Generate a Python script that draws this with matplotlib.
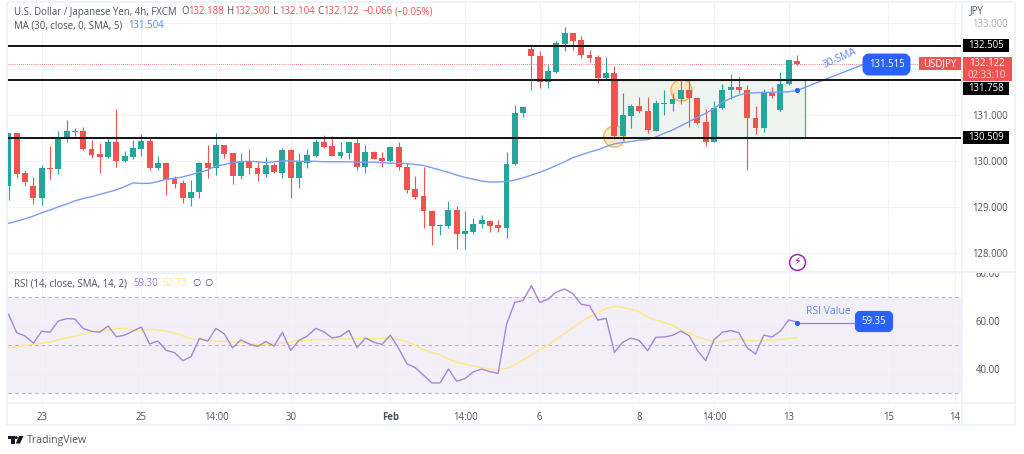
import matplotlib
matplotlib.use("Agg")
import matplotlib.pyplot as plt
from matplotlib.patches import Rectangle, FancyBboxPatch, Polygon, Circle
from matplotlib.transforms import Bbox

plt.rcParams['font.family'] = ['Open Sans', 'DejaVu Sans']

opens = [129.46,130.61,129.74,129.46,129.20,129.86,129.83,130.49,130.66,130.66,130.27,130.16,130.10,130.43,130.01,130.10,
 130.27,130.45,129.85,129.96,129.62,129.53,129.20,129.33,129.96,129.86,130.35,130.17,129.69,130.00,129.86,129.72,
 129.92,129.74,130.25,129.63,129.97,130.12,130.41,130.33,130.12,130.17,130.40,129.88,130.20,130.07,130.01,130.31,
 129.88,129.39,129.25,128.92,128.59,128.59,128.94,128.42,128.47,128.63,128.71,128.62,128.56,129.94,131.04,132.44,
 132.29,131.72,131.94,132.55,132.78,132.64,132.30,132.26,131.80,131.91,130.55,130.99,131.21,131.10,130.66,131.25,
 131.25,131.35,131.54,131.38,130.85,130.41,131.15,131.54,131.62,131.56,130.95,130.72,131.51,131.12,131.67,132.19]
highs = [130.61,130.62,129.81,129.65,129.91,130.33,130.66,130.90,130.72,130.75,130.46,130.39,130.50,131.14,130.22,130.46,
 130.59,130.50,130.12,129.96,129.67,129.59,129.59,129.99,130.36,130.62,130.35,130.17,130.17,130.27,130.01,130.09,
 129.96,130.29,130.27,130.17,130.26,130.48,130.57,130.55,130.41,130.43,130.51,130.36,130.23,130.20,130.33,130.41,
 129.97,129.69,129.88,128.94,128.64,129.14,129.03,128.93,128.76,128.83,128.72,128.72,130.20,131.22,131.21,132.51,
 132.40,132.09,132.61,132.91,132.79,132.72,132.41,132.31,132.26,132.07,131.49,131.25,131.39,131.39,131.33,131.54,
 131.48,131.77,131.77,131.39,131.13,131.32,131.67,131.90,131.83,131.65,131.20,131.57,131.61,131.95,132.20,132.31]
lows = [129.16,129.64,129.46,129.07,129.05,129.62,129.72,130.43,130.56,130.25,130.07,129.74,130.07,129.88,129.99,130.04,
 130.12,129.81,129.81,129.27,129.43,129.10,129.03,129.20,129.63,129.70,130.07,129.51,129.62,129.72,129.57,129.65,
 129.75,129.63,129.20,129.43,129.86,130.10,130.30,130.12,130.07,130.05,129.81,129.75,130.04,129.88,129.98,129.81,
 129.32,129.18,128.54,128.17,128.40,128.54,128.09,128.09,128.42,128.54,128.46,128.47,128.33,129.91,130.96,131.54,
 131.59,131.60,131.93,132.40,132.42,132.24,132.16,131.71,131.77,130.48,130.46,130.72,131.04,130.61,130.66,131.01,
 131.10,131.25,130.75,130.82,130.34,130.41,131.14,131.36,131.48,129.81,130.59,130.64,131.37,131.10,131.66,132.10]
closes = [130.61,129.72,129.55,129.20,129.86,129.83,130.51,130.66,130.64,130.26,130.14,130.10,130.43,130.01,130.12,130.28,
 130.45,129.85,129.96,129.59,129.51,129.20,129.33,129.96,129.86,130.35,130.16,129.69,130.00,129.85,129.72,129.92,
 129.76,130.25,129.63,129.99,130.14,130.41,130.31,130.12,130.20,130.41,129.88,130.20,130.05,130.01,130.31,129.87,
 129.38,129.23,128.91,128.59,128.62,128.94,128.42,128.49,128.64,128.72,128.60,128.56,129.94,131.05,131.17,132.28,
 131.72,131.96,132.57,132.78,132.62,132.30,132.24,131.81,131.91,130.55,131.00,131.21,131.09,130.67,131.26,131.26,
 131.36,131.54,131.38,130.84,130.41,131.16,131.54,131.62,131.54,130.95,130.72,131.51,131.41,131.67,132.20,132.12]
ma30 = [128.65,128.70,128.75,128.81,128.88,128.94,129.01,129.07,129.14,129.19,129.23,129.28,129.33,129.38,129.45,129.53,
 129.52,129.52,129.56,129.61,129.63,129.66,129.71,129.76,129.81,129.90,129.93,129.97,129.99,130.00,129.99,129.97,
 129.99,130.01,130.01,130.00,130.00,130.00,129.99,129.99,129.99,129.99,129.98,129.98,129.98,129.97,129.96,129.96,
 129.95,129.93,129.91,129.86,129.81,129.76,129.70,129.65,129.61,129.57,129.55,129.55,129.56,129.59,129.64,129.70,
 129.76,129.83,129.91,129.99,130.08,130.14,130.20,130.25,130.32,130.38,130.41,130.43,130.46,130.47,130.53,130.61,
 130.68,130.77,130.86,130.96,131.04,131.15,131.28,131.37,131.44,131.48,131.49,131.50,131.50,131.51,131.51,131.54]
rsi = [62.8,55.1,53.7,50.7,55.7,55.3,60.0,61.0,60.8,56.9,55.7,55.3,57.9,53.4,54.1,55.8,
 57.5,50.4,51.6,47.7,46.8,43.4,45.1,52.7,51.6,56.9,54.6,48.8,52.1,50.4,49.3,51.4,
 49.5,55.3,47.7,51.9,53.7,56.9,55.5,52.9,53.6,56.1,48.8,52.9,51.1,50.2,54.1,48.6,
 42.1,40.5,37.3,34.1,34.1,39.9,34.8,35.9,38.7,39.9,38.8,38.1,58.6,67.8,68.6,74.8,
 67.8,69.1,72.1,73.4,71.4,67.0,66.4,60.4,61.1,46.9,51.1,52.9,51.8,47.6,53.2,53.3,
 54.0,55.8,53.9,47.7,43.4,52.1,55.3,56.0,55.1,48.8,46.2,54.1,53.3,55.8,60.4,59.6]
rsi_ma = [48.8,49.1,49.8,50.2,50.7,51.1,52.1,52.9,53.7,54.7,55.4,55.8,56.2,56.8,56.9,56.2,
 56.0,56.5,56.2,55.8,54.8,53.9,52.5,52.1,51.8,51.6,51.5,51.2,51.1,50.5,50.1,50.2,
 50.4,50.7,51.2,51.8,51.9,52.2,52.2,52.2,52.5,52.5,52.6,52.6,52.6,52.7,52.7,52.2,
 51.4,49.8,47.9,46.8,45.9,44.1,42.8,42.0,41.3,40.5,39.9,39.6,40.2,41.6,43.7,45.8,
 47.9,50.0,52.5,54.8,57.2,59.7,61.8,63.5,65.2,66.1,65.7,64.9,63.9,61.7,60.4,59.4,
 58.2,56.5,55.0,53.4,52.2,51.6,51.5,52.2,52.5,51.9,51.6,51.8,52.1,52.3,52.7,53.0]
levels = [132.505, 131.758, 130.509]
last_price = 132.122
sma_callout = 131.515
rsi_callout = 59.35
price_ticks = [128, 129, 130, 131, 132, 133]
price_labels = ['128.000', '129.000', '130.000', '131.000', '', '133.000']
rsi_ticks = [40, 60, 80]
time_pos = [4, 16, 25, 34, 46, 55, 64, 76, 85, 94, 106, 114]
time_labels = ['23', '25', '14:00', '30', 'Feb', '14:00', '6', '8', '14:00', '13', '15', '14']

W, H = 1024, 454
GREEN, RED, BLUE = '#26a69a', '#ef5350', '#2962ff'
FRAME = '#f0f3fa'
TXT = '#50535e'
FS = 6.9

fig = plt.figure(figsize=(W / 100, H / 100), dpi=100, facecolor='white')

def px_axes(x0, y0, x1, y1):
    return fig.add_axes([x0 / W, 1 - y1 / H, (x1 - x0) / W, (y1 - y0) / H])

L, R = 8, 962
ax = px_axes(L, 3, R, 272)
ax2 = px_axes(L, 272, R, 403)
ov = fig.add_axes([0, 0, 1, 1], zorder=10)
ov.set_xlim(0, W); ov.set_ylim(H, 0); ov.axis('off'); ov.patch.set_alpha(0)

xlim = ((L - 8.5) / 8.3, (R - 8.5) / 8.3)
ax.set_xlim(*xlim); ax2.set_xlim(*xlim)
ax.set_ylim(131 + (115.3 - 272) / 46, 131 + (115.3 - 3) / 46)
ax2.set_ylim(60 - (403 - 321) / 2.39, 60 + (321 - 272) / 2.39)

for a in (ax, ax2):
    for s in a.spines.values():
        s.set_visible(False)
    a.set_xticks(time_pos)
    a.grid(True, color='#f3f4f8', lw=0.8)
    a.set_axisbelow(True)
    a.yaxis.tick_right()

idx = list(range(len(opens)))
colors = [GREEN if c >= o else RED for o, c in zip(opens, closes)]

# analysis box and circles
ax.add_patch(Rectangle((73.3, levels[2]), 22.7, levels[1] - levels[2], fc='#eff4f0', ec='#6f9f78', lw=0.9, zorder=1))
ax.scatter([73, 81], [130.55, 131.55], s=235, fc='#f9e8c8', ec='#f2b04e', lw=0.9, zorder=2)

# candles
ax.vlines(idx, lows, highs, colors=colors, lw=0.8, zorder=3)
ax.bar(idx, [abs(c - o) for o, c in zip(opens, closes)], bottom=[min(o, c) for o, c in zip(opens, closes)],
       width=0.7, color=colors, lw=0, zorder=4)
ax.plot(idx, ma30, color='#7c9cf5', lw=1.0, zorder=5)

# levels
ax.hlines(levels, *xlim, colors='#111111', lw=1.4, zorder=6)
ax.axhline(last_price, color=RED, lw=0.6, ls=(0, (1, 1.5)), zorder=2)

# SMA callout
ax.scatter([95], [ma30[-1]], s=7, color=BLUE, zorder=7)
ax.plot([95, 103.2], [ma30[-1], 132.12], color='#6d8ff5', lw=0.9, zorder=5)
ax.text(100.2, 132.23, '30-SMA', color='#5f86f3', fontsize=FS + 0.3, rotation=24, ha='center', va='center', zorder=7)
ov.add_patch(FancyBboxPatch((866, 57), 41, 15, boxstyle='round,pad=0,rounding_size=3', fc=BLUE, ec=BLUE, lw=5, alpha=1))
ov.text(887, 64.5, f'{sma_callout:.3f}', color='white', fontsize=FS, ha='center', va='center')

# price axis
ax.set_yticks(price_ticks)
ax.set_yticklabels(price_labels, fontsize=FS, color=TXT)
ax.tick_params(axis='y', length=0, pad=7.5)
ax.tick_params(axis='x', length=0, labelbottom=False)
ax.get_yticklabels()[-1].set_color('#a8abb5')
ov.text(970, 11, 'JPY', fontsize=FS, color=TXT, ha='left', va='center')

# axis badges
for lv, yc in zip(levels, [45.5, 88.5, 137.5]):
    ov.add_patch(Rectangle((962, yc - 6.5), 47, 13, fc='black', lw=0))
    ov.text(985.5, yc, f'{lv:.3f}', color='white', fontsize=FS, ha='center', va='center')
ov.add_patch(Rectangle((962, 57), 50, 24, fc=RED, lw=0))
ov.text(987, 63.5, f'{last_price:.3f}', color='white', fontsize=FS, ha='center', va='center')
ov.text(987, 75, '02:33:10', color='#fbd5d4', fontsize=FS, ha='center', va='center')
ov.add_patch(Rectangle((919, 57), 42, 13, fc=RED, lw=0))
ov.text(940, 63.5, 'USDJPY', color='white', fontsize=FS, ha='center', va='center')

# lightning marker
ov.scatter([797], [262], s=130, fc='white', ec='#9c27b0', lw=1.1, zorder=3)
ov.text(797, 262, '\u26a1', color='#9c27b0', fontsize=8, ha='center', va='center', family='DejaVu Sans', zorder=4)

# RSI pane
ax2.axhspan(30, 70, fc='#f2eff9', lw=0, zorder=0)
ax2.hlines([30, 50, 70], *xlim, colors='#b4b6bd', lw=0.8, linestyles=(0, (3, 3)), zorder=1)
ax2.plot(idx, rsi_ma, color='#ffe97f', lw=1.0, zorder=3)
ax2.plot(idx, rsi, color='#a487d6', lw=1.0, zorder=4)
ax2.scatter([95], [rsi_callout], s=7, color=BLUE, zorder=6)
ax2.plot([95, 103.5], [rsi_callout, rsi_callout], color='#6d8ff5', lw=0.9, zorder=5)
ax2.text(98.8, 63.8, 'RSI Value', color='#5f86f3', fontsize=FS + 0.6, ha='center', va='center', zorder=6)
ov.add_patch(FancyBboxPatch((857, 313), 34, 17, boxstyle='round,pad=0,rounding_size=3', fc=BLUE, ec=BLUE, lw=3))
ov.text(874, 321.5, f'{rsi_callout:.2f}', color='white', fontsize=FS, ha='center', va='center')

ax2.set_yticks(rsi_ticks)
ax2.set_yticklabels([f'{v:.2f}' for v in rsi_ticks], fontsize=FS, color=TXT)
ax2.tick_params(axis='y', length=0, pad=10)
for t in ax2.get_yticklabels():
    t.set_clip_on(True)
    t.set_clip_box(Bbox([[0, 0], [W, H - 273]]))

ax2.set_xticklabels(time_labels, fontsize=FS, color=TXT)
ax2.tick_params(axis='x', length=0, pad=6.5)
for t, s in zip(ax2.get_xticklabels(), time_labels):
    if s == 'Feb':
        t.set_fontweight('bold')

# frame
for x0, y0, x1, y1 in [(7, 1.5, 1015, 1.5), (7, 425, 1015, 425), (7, 1.5, 7, 425), (1015, 1.5, 1015, 425),
                       (962, 1.5, 962, 425), (7, 272, 1015, 272), (7, 403, 1015, 403)]:
    ov.plot([x0, x1], [y0, y1], color=FRAME, lw=1.4, solid_capstyle='butt', zorder=1)

# legends
def legend(parts, y):
    for x, s, c in parts:
        ov.text(x, y, s, color=c, fontsize=FS, ha='left', va='center')

legend([(14, 'U.S. Dollar / Japanese Yen, 4h, FXCM', TXT), (181, 'O', TXT), (188, '132.188', RED),
        (227, 'H', TXT), (234, '132.300', RED), (273, 'L', TXT), (279, '132.104', RED), (317, 'C', TXT),
        (323, '132.122', RED), (363, '\u22120.066', RED), (395, '(\u22120.05%)', RED)], 12)
legend([(14, 'MA (30, close, 0, SMA, 5)', TXT), (128, '131.504', '#5b82f5')], 26)
legend([(14, 'RSI (14, close, SMA, 14, 2)', TXT), (133, '59.30', '#9b7fd4'), (162, '52.73', '#fde96a'),
        (192, '\u2205', TXT), (204, '\u2205', TXT)], 284)

# logo mark
INK = '#131722'
ov.add_patch(Polygon([(8, 436), (14.5, 436), (14.5, 443.5), (11, 443.5), (11, 439), (8, 439)], fc=INK, lw=0))
ov.add_patch(Circle((16.3, 437.6), 1.5, fc=INK, lw=0))
ov.add_patch(Polygon([(19, 436), (23.5, 436), (20, 443.5), (15.8, 443.5)], fc=INK, lw=0))
ov.text(27, 440, 'TradingView', color='#50535e', fontsize=7.6, ha='left', va='center')

fig.savefig('out.png', dpi=100)
